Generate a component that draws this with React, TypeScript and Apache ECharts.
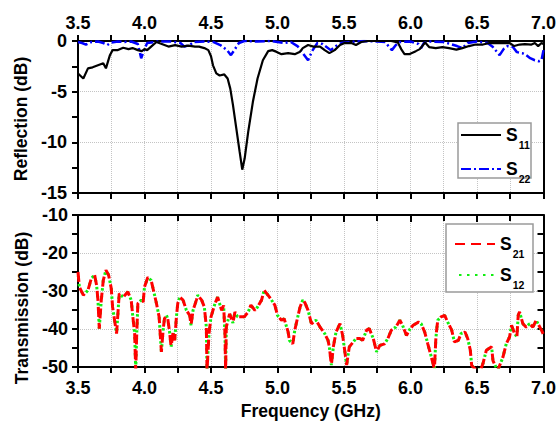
import React, { useEffect, useRef } from "react";
import * as echarts from "echarts";

// ---------- data ----------
const s11Freq = [3.5, 3.54, 3.575, 3.61, 3.65, 3.69, 3.71, 3.74, 3.76, 3.8, 3.84, 3.88, 3.91, 3.95, 3.98, 4.0, 4.02, 4.05, 4.09, 4.13, 4.18, 4.23, 4.28, 4.33, 4.38, 4.41, 4.45, 4.48, 4.5, 4.515, 4.54, 4.565, 4.6, 4.625, 4.645, 4.665, 4.69, 4.715, 4.735, 4.753, 4.78, 4.815, 4.85, 4.89, 4.93, 4.96, 4.99, 5.03, 5.08, 5.13, 5.17, 5.19, 5.23, 5.27, 5.32, 5.355, 5.39, 5.43, 5.47, 5.505, 5.555, 5.59, 5.63, 5.68, 5.73, 5.79, 5.855, 5.905, 5.93, 5.955, 5.99, 6.04, 6.07, 6.11, 6.14, 6.19, 6.24, 6.29, 6.345, 6.39, 6.44, 6.49, 6.545, 6.595, 6.645, 6.695, 6.745, 6.78, 6.82, 6.86, 6.91, 6.935, 6.96, 6.985, 7.0];
const s11Val = [-3.2, -3.7, -2.7, -2.6, -2.4, -2.2, -2.7, -1.4, -0.9, -0.9, -0.66, -0.8, -0.7, -0.9, -1.0, -0.8, -0.9, -0.55, -0.1, -0.3, -0.55, -0.4, -0.55, -0.45, -0.55, -0.55, -0.7, -0.9, -1.5, -2.4, -3.2, -3.4, -3.3, -3.7, -4.7, -6.3, -8.6, -10.9, -12.7, -11.6, -8.95, -6.0, -3.7, -1.9, -1.0, -0.9, -1.05, -1.3, -1.2, -1.3, -1.05, -0.7, -0.4, -0.55, -0.55, -0.9, -1.2, -0.9, -0.4, -0.2, -0.2, -0.4, -0.1, 0, 0, 0, 0, -0.15, -0.8, -1.3, -1.3, -1.0, -0.8, -0.15, -0.6, -0.7, -0.6, -0.7, -0.85, -0.7, -0.5, -0.35, -0.35, -0.2, -0.2, -0.2, -0.2, -0.5, -0.35, -0.3, -0.35, -0.2, -0.5, -0.2, -0.3];

const s22Freq = [3.5, 3.53, 3.56, 3.6, 3.65, 3.69, 3.72, 3.75, 3.8, 3.85, 3.9, 3.95, 3.975, 4.0, 4.02, 4.1, 4.2, 4.27, 4.3, 4.34, 4.37, 4.45, 4.52, 4.57, 4.62, 4.65, 4.68, 4.71, 4.75, 4.85, 4.95, 5.0, 5.05, 5.1, 5.15, 5.19, 5.23, 5.26, 5.3, 5.34, 5.4, 5.44, 5.48, 5.55, 5.65, 5.75, 5.81, 5.84, 5.86, 5.89, 5.92, 6.0, 6.06, 6.08, 6.1, 6.15, 6.25, 6.3, 6.35, 6.39, 6.43, 6.5, 6.58, 6.62, 6.67, 6.7, 6.73, 6.77, 6.8, 6.84, 6.87, 6.9, 6.935, 6.965, 6.985, 7.0];
const s22Val = [-0.1, -0.2, -0.35, -0.1, -0.05, -0.2, -0.4, -0.15, -0.05, -0.1, -0.05, -0.3, -1.7, -0.8, -0.2, -0.05, -0.05, -0.2, -0.55, -0.4, -0.1, -0.05, -0.1, -0.4, -0.9, -1.4, -0.8, -0.2, 0, -0.05, 0, -0.1, -0.2, -0.1, -0.5, -1.2, -1.9, -1.0, -0.2, -0.3, -0.9, -0.5, -0.2, -0.1, 0, -0.05, -0.1, -0.6, -0.9, -0.4, -0.1, -0.05, -0.3, -0.7, -0.2, -0.05, -0.1, -0.3, -0.5, -0.7, -0.2, -0.05, -0.2, -0.6, -1.4, -0.8, -0.5, -0.6, -1.1, -1.2, -1.4, -1.7, -1.9, -2.0, -1.9, -0.9];

const s21Freq = [3.5, 3.51, 3.54, 3.575, 3.6, 3.625, 3.64, 3.65, 3.66, 3.675, 3.69, 3.71, 3.73, 3.75, 3.76, 3.79, 3.8, 3.81, 3.84, 3.875, 3.9, 3.91, 3.926, 3.934, 3.94, 3.95, 3.975, 3.99, 4.0, 4.025, 4.05, 4.07, 4.09, 4.11, 4.127, 4.14, 4.15, 4.165, 4.175, 4.19, 4.2, 4.215, 4.227, 4.24, 4.25, 4.265, 4.29, 4.315, 4.34, 4.35, 4.365, 4.39, 4.4, 4.43, 4.45, 4.465, 4.47, 4.485, 4.5, 4.53, 4.55, 4.58, 4.595, 4.605, 4.61, 4.615, 4.64, 4.665, 4.68, 4.7, 4.75, 4.78, 4.8, 4.83, 4.85, 4.88, 4.9, 4.94, 4.98, 5.0, 5.03, 5.05, 5.08, 5.09, 5.115, 5.13, 5.155, 5.17, 5.19, 5.205, 5.23, 5.255, 5.29, 5.32, 5.355, 5.38, 5.39, 5.405, 5.42, 5.44, 5.47, 5.49, 5.505, 5.52, 5.53, 5.54, 5.57, 5.59, 5.62, 5.64, 5.67, 5.69, 5.72, 5.745, 5.77, 5.805, 5.83, 5.856, 5.89, 5.92, 5.94, 5.97, 5.99, 6.02, 6.06, 6.08, 6.107, 6.13, 6.157, 6.18, 6.19, 6.195, 6.205, 6.23, 6.257, 6.28, 6.31, 6.33, 6.36, 6.38, 6.41, 6.43, 6.45, 6.46, 6.5, 6.53, 6.545, 6.57, 6.61, 6.62, 6.655, 6.695, 6.72, 6.745, 6.76, 6.78, 6.8, 6.81, 6.82, 6.845, 6.87, 6.895, 6.92, 6.945, 6.985, 7.0];
const s21Val = [-25.0, -28.9, -31.1, -29.8, -26.7, -25.8, -28.5, -32.4, -39.9, -32.4, -27.2, -24.5, -25.8, -29.3, -34.2, -41.2, -36.0, -30.7, -31.6, -30.2, -32.4, -36.0, -41.2, -51, -43, -33.3, -32.4, -32.9, -28.9, -26.4, -27.2, -30.2, -33.3, -36.8, -46.0, -40.3, -37.3, -36.4, -37.3, -41.2, -44.7, -40.8, -43.0, -36.8, -33.3, -31.6, -32.4, -35.1, -36.4, -39.0, -35.1, -32.4, -31.1, -32.4, -34.2, -39.5, -51, -41.2, -36.8, -33.3, -31.6, -35.1, -33.8, -41.2, -51, -39.5, -36.0, -38.4, -35.5, -36.8, -36.8, -35.5, -33.7, -35.1, -34.2, -32.4, -29.8, -31.6, -33.7, -36.4, -37.7, -37.3, -40.8, -43.0, -43.9, -40.3, -36.4, -34.2, -32.4, -33.0, -35.1, -38.6, -37.7, -39.5, -41.2, -43.0, -44.7, -49.5, -44.7, -40.8, -38.6, -41.7, -45.6, -49.5, -47.0, -44.7, -43.4, -42.5, -42.5, -43.0, -40.3, -39.9, -42.5, -46.0, -44.3, -43.9, -42.5, -40.3, -39.5, -37.7, -39.0, -41.7, -40.3, -39.0, -38.2, -38.6, -40.8, -43.9, -47.4, -50.5, -43.0, -40.8, -37.7, -36.8, -36.4, -38.2, -40.3, -43.4, -43.0, -41.2, -40.8, -42.5, -45.6, -49.6, -51, -50.5, -49.1, -45.6, -44.7, -48.3, -51, -47.4, -43.9, -42.1, -39.0, -41.0, -42.1, -36.4, -35.5, -38.6, -39.5, -38.6, -39.5, -37.7, -40.3, -41.5];

// S12 coincides with S21 in the reference (the green dots sit on the red dashes)
const s12Freq = s21Freq;
const s12Val = s21Val;

const xTicksMin = 3.5;
const xTicksMax = 7.0;
const xTickStep = 0.5;
const reflMin = -15;
const reflMax = 0;
const reflStep = 5;
const transMin = -50;
const transMax = -10;
const transStep = 10;

const FONT = "'Liberation Sans', Arial, sans-serif";

const pairs = (f: number[], v: number[]) => f.map((x, i) => [x, v[i]]);

export default function App() {
  const ref = useRef<HTMLDivElement>(null);
  useEffect(() => {
    if (!ref.current) return;
    const chart = echarts.init(ref.current, undefined, { renderer: "svg" });

    const axisLine = { show: true, onZero: false, lineStyle: { color: "#000", width: 2 } };
    const tickStyle = { color: "#000", width: 2 };
    const dotted = { show: true, lineStyle: { color: "#c4c4c4", type: "dotted" as const, width: 1 } };
    const labelStyle = { color: "#000", fontFamily: FONT, fontWeight: "bold" as const, fontSize: 18 };
    const nameStyle = { color: "#000", fontFamily: FONT, fontWeight: "bold" as const, fontSize: 17.5 };

    const xBase = {
      type: "value" as const,
      min: xTicksMin,
      max: xTicksMax,
      interval: xTickStep,
      axisLine,
      minorTick: { show: true, splitNumber: 2, length: 6, lineStyle: tickStyle },
    };

    const legendText = {
      color: "#000",
      rich: {
        s: { fontFamily: FONT, fontWeight: "bold" as const, fontSize: 17.5, lineHeight: 26, color: "#000" },
        sub: { fontFamily: FONT, fontWeight: "bold" as const, fontSize: 10.5, lineHeight: 26, padding: [19, 0, 0, 1], color: "#000" },
      },
    };
    const legendFmt = (name: string) => `{s|S}{sub|${name.slice(1)}}`;

    chart.setOption({
      animation: false,
      backgroundColor: "#fff",
      grid: [
        { left: 78, top: 41, width: 466, height: 152, containLabel: false },
        { left: 78, top: 215, width: 466, height: 152, containLabel: false },
      ],
      xAxis: [
        {
          ...xBase,
          gridIndex: 0,
          position: "top",
          axisTick: { show: true, inside: false, length: 6, lineStyle: tickStyle },
          axisLabel: { ...labelStyle, margin: 9, formatter: (v: number) => v.toFixed(1) },
          splitLine: dotted,
          minorSplitLine: dotted,
        },
        {
          ...xBase,
          gridIndex: 0,
          position: "bottom",
          axisTick: { show: true, inside: false, length: 6, lineStyle: tickStyle },
          axisLabel: { show: false },
          splitLine: { show: false },
        },
        {
          ...xBase,
          gridIndex: 1,
          position: "bottom",
          name: "Frequency (GHz)",
          nameLocation: "middle",
          nameGap: 35,
          nameTextStyle: nameStyle,
          axisTick: { show: true, inside: false, length: 6, lineStyle: tickStyle },
          axisLabel: { ...labelStyle, margin: 12, formatter: (v: number) => v.toFixed(1) },
          splitLine: dotted,
          minorSplitLine: dotted,
        },
        {
          ...xBase,
          gridIndex: 1,
          position: "top",
          axisTick: { show: true, inside: true, length: 7, lineStyle: tickStyle },
          axisLabel: { show: false },
          splitLine: { show: false },
        },
      ],
      yAxis: [
        {
          type: "value",
          gridIndex: 0,
          position: "left",
          min: reflMin,
          max: reflMax,
          interval: reflStep,
          axisLine,
          name: "Reflection (dB)",
          nameLocation: "middle",
          nameGap: 46,
          nameTextStyle: { ...nameStyle, padding: [0, 4, 0, 0] },
          axisTick: { show: true, inside: false, length: 6, lineStyle: tickStyle },
          minorTick: { show: true, splitNumber: 2, length: 6, lineStyle: tickStyle },
          axisLabel: { ...labelStyle, margin: 11 },
          splitLine: dotted,
        },
        {
          type: "value",
          gridIndex: 0,
          position: "right",
          min: reflMin,
          max: reflMax,
          interval: reflStep,
          axisLine,
          axisTick: { show: false },
          axisLabel: { show: false },
          splitLine: { show: false },
        },
        {
          type: "value",
          gridIndex: 1,
          position: "left",
          min: transMin,
          max: transMax,
          interval: transStep,
          axisLine,
          name: "Transmission (dB)",
          nameLocation: "middle",
          nameGap: 45,
          nameTextStyle: { ...nameStyle, padding: [0, 34, 0, 0] },
          axisTick: { show: true, inside: false, length: 6, lineStyle: tickStyle },
          minorTick: { show: true, splitNumber: 2, length: 6, lineStyle: tickStyle },
          axisLabel: { ...labelStyle, margin: 10 },
          splitLine: dotted,
        },
        {
          type: "value",
          gridIndex: 1,
          position: "right",
          min: transMin,
          max: transMax,
          interval: transStep,
          axisLine,
          axisTick: { show: true, inside: true, length: 6, lineStyle: tickStyle },
          minorTick: { show: true, splitNumber: 2, length: 6, lineStyle: tickStyle },
          axisLabel: { show: false },
          splitLine: { show: false },
        },
      ],
      legend: [
        {
          data: ["S11", "S22"],
          orient: "vertical",
          left: 460,
          top: 120,
          padding: 0,
          itemGap: 4,
          itemWidth: 40,
          itemHeight: 14,
          selectedMode: false,
          formatter: legendFmt,
          textStyle: legendText,
          itemStyle: { opacity: 0 },
          z: 20,
        },
        {
          data: ["S21", "S12"],
          orient: "vertical",
          left: 454,
          top: 229,
          padding: 0,
          itemGap: 1,
          itemWidth: 40,
          itemHeight: 14,
          selectedMode: false,
          formatter: legendFmt,
          textStyle: legendText,
          itemStyle: { opacity: 0 },
          z: 20,
        },
      ],
      graphic: [
        {
          type: "rect",
          shape: { x: 458, y: 123, width: 73, height: 55 },
          style: { fill: "#fff", stroke: "#9a9a9a", lineWidth: 1.5 },
          z: 5,
        },
        {
          type: "rect",
          shape: { x: 446, y: 224, width: 87, height: 68 },
          style: { fill: "#fff", stroke: "#9a9a9a", lineWidth: 1.5 },
          z: 5,
        },
      ],
      series: [
        {
          name: "S11",
          type: "line",
          xAxisIndex: 0,
          yAxisIndex: 0,
          data: pairs(s11Freq, s11Val),
          symbol: "none",
          showSymbol: false,
          color: "#000",
          lineStyle: { color: "#000", width: 2.2 },
          z: 3,
        },
        {
          name: "S22",
          type: "line",
          xAxisIndex: 0,
          yAxisIndex: 0,
          data: pairs(s22Freq, s22Val),
          symbol: "none",
          showSymbol: false,
          color: "#0000ff",
          lineStyle: { color: "#0000ff", width: 2.5, type: [10, 3, 2, 3] },
          z: 2,
        },
        {
          name: "S21",
          type: "line",
          xAxisIndex: 2,
          yAxisIndex: 2,
          data: pairs(s21Freq, s21Val),
          symbol: "none",
          showSymbol: false,
          color: "#ff0000",
          lineStyle: { color: "#ff0000", width: 3, type: [10, 6] },
          z: 3,
        },
        {
          name: "S12",
          type: "line",
          xAxisIndex: 2,
          yAxisIndex: 2,
          data: pairs(s12Freq, s12Val),
          symbol: "none",
          showSymbol: false,
          color: "#11ee11",
          lineStyle: { color: "#11ee11", width: 3, type: [2.5, 5.5], dashOffset: 4 },
          z: 2,
        },
      ],
    });
    return () => chart.dispose();
  }, []);
  return (
    <div
      ref={ref}
      style={{ position: "fixed", left: 0, top: 0, width: 559, height: 424, background: "#fff" }}
    />
  );
}
